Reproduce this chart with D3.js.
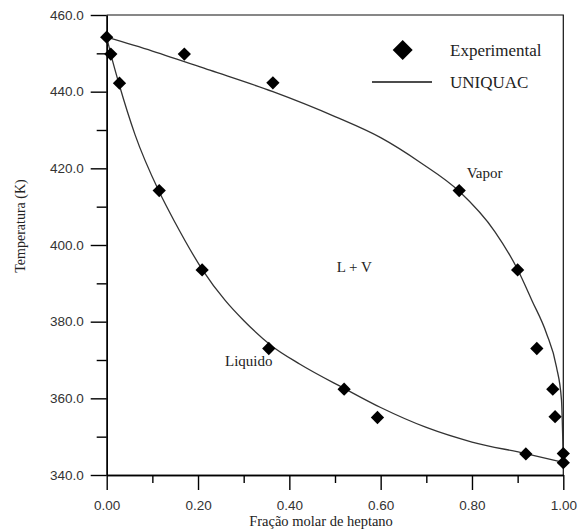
<!DOCTYPE html>
<html>
<head>
<meta charset="utf-8">
<script src="https://cdn.jsdelivr.net/npm/d3@7"></script>
<style>
  body { margin: 0; background: #fff; }
</style>
</head>
<body>
<div id="chart"></div>
<script>
// experimental points, liquid branch (x) and vapour branch (y)
var liqExpX = [0.000, 0.009, 0.028, 0.115, 0.209, 0.355, 0.520, 0.593, 0.918, 1.000];
var liqExpT = [454.2, 449.8, 442.2, 414.2, 393.5, 373.0, 362.4, 355.0, 345.5, 343.2];
var vapExpX = [0.170, 0.364, 0.772, 0.900, 0.942, 0.977, 0.982, 1.000];
var vapExpT = [449.8, 442.3, 414.2, 393.5, 373.0, 362.4, 355.2, 345.6];

// UNIQUAC curves
var liqModX = [0, 0.009, 0.028, 0.062, 0.1145, 0.15, 0.2094, 0.259, 0.3, 0.36, 0.4234, 0.52, 0.6, 0.7, 0.8, 0.9175, 1.0];
var liqModT = [454.2, 449.8, 441.6, 428.8, 414.0, 405.8, 393.6, 385.6, 380.3, 373.8, 368.9, 362.6, 357.6, 352.4, 348.6, 345.6, 343.3];
var vapModX = [0, 0.1, 0.226, 0.364, 0.5, 0.6, 0.686, 0.772, 0.85, 0.90, 0.931, 0.963, 0.985, 0.996, 1.0];
var vapModT = [454.2, 450.6, 445.6, 440.0, 433.5, 428.0, 421.6, 414.0, 403.5, 393.6, 385.6, 377.0, 368.2, 359.6, 343.3];

var xMajor = [0, 0.2, 0.4, 0.6, 0.8, 1.0];
var xMinor = [0.1, 0.3, 0.5, 0.7, 0.9];
var yMajor = [340, 360, 380, 400, 420, 440, 460];
var yMinor = [350, 370, 390, 410, 430, 450];

var width = 579, height = 530;
var plotL = 106.7, plotR = 563.3, plotT = 15, plotB = 475;

var x = d3.scaleLinear().domain([0, 1]).range([plotL, plotR]);
var y = d3.scaleLinear().domain([340, 460]).range([plotB, plotT]);

var svg = d3.select('#chart').append('svg')
    .attr('width', width)
    .attr('height', height);

// frame (top and right)
svg.append('path')
    .attr('d', 'M' + plotL + ',' + plotT + 'H' + plotR + 'V' + plotB)
    .attr('fill', 'none')
    .attr('stroke', '#111')
    .attr('stroke-width', 1.2);

function styleAxis(g) {
  g.selectAll('path, line').attr('stroke', '#000').attr('stroke-width', 1.4);
  g.selectAll('text')
    .attr('fill', '#333')
    .style('font-family', '"Liberation Sans", Arial, sans-serif')
    .style('font-size', '13.5px');
}

// minor ticks first
svg.append('g')
    .attr('transform', 'translate(0,' + plotB + ')')
    .call(d3.axisBottom(x).tickValues(xMinor).tickSize(8).tickSizeOuter(0).tickFormat(''))
    .call(styleAxis);
svg.append('g')
    .attr('transform', 'translate(' + plotL + ',0)')
    .call(d3.axisLeft(y).tickValues(yMinor).tickSize(10).tickSizeOuter(0).tickFormat(''))
    .call(styleAxis);

svg.append('g')
    .attr('transform', 'translate(0,' + plotB + ')')
    .call(d3.axisBottom(x).tickValues(xMajor).tickSize(15).tickSizeOuter(0)
      .tickPadding(10).tickFormat(d3.format('.2f')))
    .call(styleAxis);
svg.append('g')
    .attr('transform', 'translate(' + plotL + ',0)')
    .call(d3.axisLeft(y).tickValues(yMajor).tickSize(16).tickSizeOuter(0)
      .tickPadding(7).tickFormat(d3.format('.1f')))
    .call(styleAxis);

// axis titles
svg.append('text')
    .attr('x', 321).attr('y', 526)
    .attr('text-anchor', 'middle')
    .style('font-family', '"Liberation Serif", "Times New Roman", serif')
    .style('font-size', '14.5px')
    .attr('fill', '#222')
    .text('Fração molar de heptano');

svg.append('text')
    .attr('transform', 'translate(25,226) rotate(-90)')
    .attr('text-anchor', 'middle')
    .style('font-family', '"Liberation Serif", "Times New Roman", serif')
    .style('font-size', '14px')
    .attr('fill', '#222')
    .text('Temperatura (K)');

// model curves
var line = d3.line()
    .x(function(d) { return x(d[0]); })
    .y(function(d) { return y(d[1]); })
    .curve(d3.curveMonotoneX);

var curves = [d3.zip(liqModX, liqModT), d3.zip(vapModX, vapModT)];
svg.selectAll('.model')
    .data(curves)
    .enter().append('path')
    .attr('class', 'model')
    .attr('d', line)
    .attr('fill', 'none')
    .attr('stroke', '#333')
    .attr('stroke-width', 1.3);

// experimental diamonds
var diamond = d3.symbol().type(d3.symbolSquare).size(88);
var points = d3.zip(liqExpX, liqExpT).concat(d3.zip(vapExpX, vapExpT));
svg.selectAll('.exp')
    .data(points)
    .enter().append('path')
    .attr('class', 'exp')
    .attr('d', diamond)
    .attr('transform', function(d) {
      return 'translate(' + x(d[0]) + ',' + y(d[1]) + ') rotate(45)';
    })
    .attr('fill', '#000');

// legend
svg.append('path')
    .attr('d', d3.symbol().type(d3.symbolSquare).size(200))
    .attr('transform', 'translate(402.7,50) rotate(45)')
    .attr('fill', '#000');
svg.append('line')
    .attr('x1', 372).attr('x2', 432)
    .attr('y1', 82).attr('y2', 82)
    .attr('stroke', '#111').attr('stroke-width', 1.3);

var serif = '"Liberation Serif", "Times New Roman", serif';
var labels = [
  {t: 'Experimental', x: 450, y: 56, s: 17},
  {t: 'UNIQUAC', x: 450, y: 88, s: 17},
  {t: 'Vapor', x: 466.7, y: 178, s: 15},
  {t: 'Liquido', x: 225, y: 366, s: 15},
  {t: 'L + V', x: 336.7, y: 272, s: 15}
];
svg.selectAll('.lbl')
    .data(labels)
    .enter().append('text')
    .attr('class', 'lbl')
    .attr('x', function(d) { return d.x; })
    .attr('y', function(d) { return d.y; })
    .style('font-family', serif)
    .style('font-size', function(d) { return d.s + 'px'; })
    .attr('fill', '#222')
    .text(function(d) { return d.t; });
</script>
</body>
</html>
